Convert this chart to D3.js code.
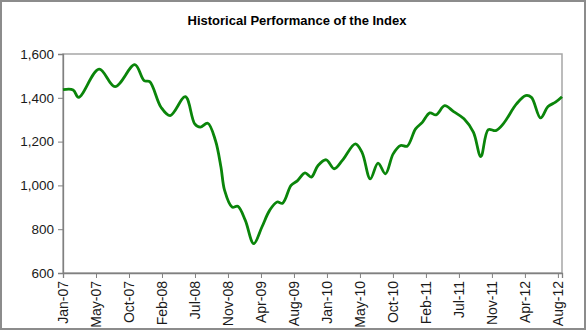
<!DOCTYPE html>
<html><head><meta charset="utf-8">
<script src="https://cdn.jsdelivr.net/npm/d3@7"></script>
<style>
html,body{margin:0;padding:0;background:#fff;}
svg{display:block;font-family:"Liberation Sans",Arial,sans-serif;}
</style></head>
<body>
<svg id="chart" width="586" height="330"></svg>
<script>
const title = "Historical Performance of the Index";
const dates = ["2007-01-01","2007-02-12","2007-03-07","2007-05-31","2007-08-05","2007-10-26","2007-12-04","2007-12-27",
"2008-02-12","2008-03-21","2008-05-23","2008-07-01","2008-07-24","2008-08-24","2008-09-25","2008-10-18","2008-11-02",
"2008-12-03","2008-12-27","2009-01-27","2009-03-03","2009-04-06","2009-05-08","2009-06-08","2009-07-01","2009-08-05",
"2009-09-01","2009-10-02","2009-10-28","2009-11-25","2009-12-29","2010-01-31","2010-03-06","2010-04-29","2010-05-27",
"2010-06-30","2010-08-01","2010-09-01","2010-10-03","2010-11-03","2010-11-30","2011-01-04","2011-02-01","2011-03-04",
"2011-03-30","2011-05-05","2011-06-11","2011-07-24","2011-09-01","2011-10-02","2011-11-02","2011-12-03","2012-01-03",
"2012-02-27","2012-04-05","2012-04-29","2012-06-06","2012-07-07","2012-08-07","2012-09-03"];
const values = [1437,1436,1402,1531,1451,1551,1478,1474,
1357,1319,1405,1281,1266,1284,1205,1083,977,
901,905,840,734,810,886,924,919,1000,
1022,1057,1038,1091,1117,1076,1114,1190,1150,
1030,1102,1053,1144,1182,1179,1258,1288,1331,
1322,1364,1337,1304,1243,1132,1255,1250,1281,
1372,1410,1402,1308,1360,1380,1405];
const tickLabels = ["Jan-07","May-07","Oct-07","Feb-08","Jul-08","Nov-08","Apr-09","Aug-09",
"Jan-10","May-10","Oct-10","Feb-11","Jul-11","Nov-11","Apr-12","Aug-12"];
const yTicks = [600,800,1000,1200,1400,1600];

const parse = d3.timeParse("%Y-%m-%d");
const data = dates.map((d,i)=>({date:parse(d), value:values[i]}));

const svg = d3.select("#chart");
const W = 586, H = 330;
const m = {left:63, right:24, top:54, bottom:57};

// outer border
svg.append("rect").attr("x",1).attr("y",1).attr("width",W-2).attr("height",H-2)
  .attr("fill","#fff").attr("stroke","#8c8c8c").attr("stroke-width",2);

const start = parse("2007-01-01");
const x = d3.scaleTime()
  .domain([start, d3.timeDay.offset(start, 2072)])
  .range([m.left, W - m.right]);
const y = d3.scaleLinear().domain([600,1600]).range([H - m.bottom, m.top]);

// plot frame
svg.append("rect").attr("x",m.left).attr("y",m.top)
  .attr("width",W-m.right-m.left).attr("height",H-m.bottom-m.top)
  .attr("fill","none").attr("stroke","#a6a6a6").attr("stroke-width",1.5);

// title
svg.append("text").attr("x",297).attr("y",25).attr("text-anchor","middle")
  .attr("font-size",13).attr("font-weight","bold").attr("fill","#000").text(title);

// y axis
const yAxis = d3.axisLeft(y).tickValues(yTicks).tickSize(5).tickPadding(4)
  .tickFormat(d3.format(","));
const gy = svg.append("g").attr("transform",`translate(${m.left},0)`).call(yAxis);
gy.select(".domain").attr("stroke","#808080").attr("stroke-width",1.3);
gy.selectAll(".tick line").attr("stroke","#808080");
gy.selectAll(".tick text").attr("font-size",13.5).attr("fill","#1a1a1a")
  .attr("font-family","'Liberation Sans',Arial,sans-serif");

// x axis
const tickDates = tickLabels.map((_,i)=>d3.timeDay.offset(start, i*137));
const xAxis = d3.axisBottom(x).tickValues(tickDates).tickSize(5).tickPadding(4)
  .tickFormat((d,i)=>tickLabels[i]);
const gx = svg.append("g").attr("transform",`translate(0,${H-m.bottom})`).call(xAxis);
gx.select(".domain").attr("stroke","#808080").attr("stroke-width",1.3);
gx.selectAll(".tick line").attr("stroke","#808080");
gx.selectAll(".tick text").attr("font-size",14).attr("fill","#1a1a1a")
  .attr("font-family","'Liberation Sans',Arial,sans-serif")
  .attr("transform","rotate(-90)")
  .attr("text-anchor","end").attr("dy","0.35em").attr("x",-8).attr("y",0);

// line
const line = d3.line().x(d=>x(d.date)).y(d=>y(d.value)).curve(d3.curveCatmullRom.alpha(0.5));
svg.append("path").datum(data).attr("d",line).attr("fill","none")
  .attr("stroke","#0a850a").attr("stroke-width",2.8).attr("stroke-linejoin","round");
</script>
</body></html>
